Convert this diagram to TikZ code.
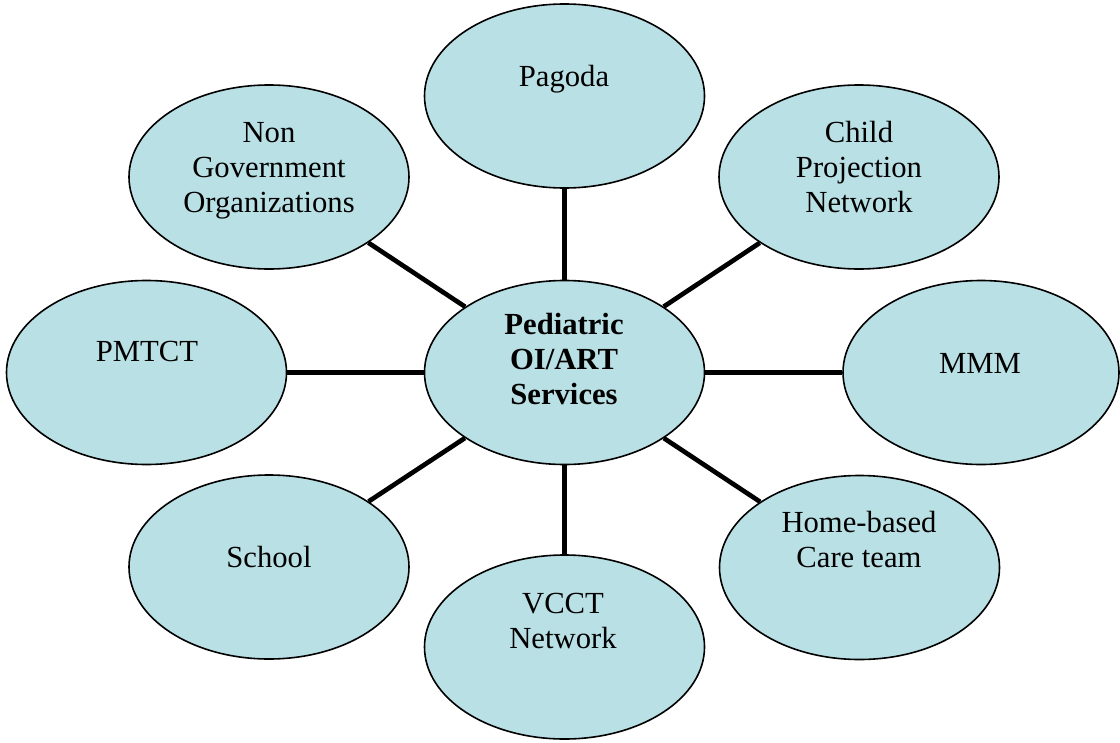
\documentclass[tikz,border=0pt]{standalone}
\usepackage{fontspec}
\setmainfont{Liberation Serif}
\usetikzlibrary{shapes.geometric}
\definecolor{bubble}{RGB}{185,224,228}
\tikzset{
  blob/.style={ellipse, draw=black, line width=1.2pt, fill=bubble,
    minimum width=210pt, minimum height=138pt, inner sep=0pt},
  conn/.style={line width=3.5pt, black},
  lbl/.style={anchor=base, align=center, inner sep=0pt,
    font=\fontsize{23}{26.25}\selectfont},
}
\begin{document}
\begin{tikzpicture}[x=0.75pt, y=-0.75pt]
\useasboundingbox (0,0) rectangle (1120,742);
% ellipses
\node[blob] (c)   at (564.5,372.5) {};
\node[blob] (pag) at (564.5,96) {};
\node[blob] (ngo) at (269,177) {};
\node[blob] (chi) at (859,177) {};
\node[blob] (pmt) at (146.5,372.5) {};
\node[blob, minimum width=207pt] (mmm) at (981,372.5) {};
\node[blob] (sch) at (269,567) {};
\node[blob] (hom) at (859.5,567.5) {};
\node[blob] (vcc) at (564.5,647) {};
% connectors
\foreach \n in {pag,ngo,chi,pmt,mmm,sch,hom,vcc}
  \draw[conn] (c) -- (\n);
% labels (anchor=base is the baseline of the last line)
\node[lbl] (tc)   at (564,404) {\textbf{Pediatric}\\\textbf{OI/ART}\\\textbf{Services}};
\node[lbl] (tpag) at (564,86) {Pagoda};
\node[lbl] (tngo) at (269,212) {Non\\Government\\Organizations};
\node[lbl] (tchi) at (859,212) {Child\\Projection\\Network};
\node[lbl] (tpmt) at (147,361) {PMTCT};
\node[lbl] (tmmm) at (980,373) {MMM};
\node[lbl] (tsch) at (269,567) {School};
\node[lbl] (thom) at (859,567) {Home-based\\Care team};
\node[lbl] (tvcc) at (563,648) {VCCT\\Network};
\end{tikzpicture}
\end{document}
